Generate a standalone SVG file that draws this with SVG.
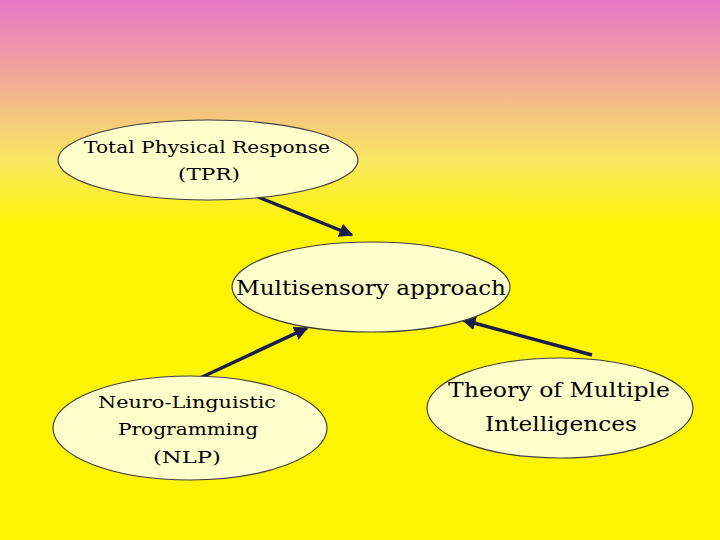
<svg xmlns="http://www.w3.org/2000/svg" width="720" height="540" viewBox="0 0 720 540">
<defs>
<linearGradient id="bg" x1="0" y1="0" x2="0" y2="1">
<stop offset="0" stop-color="#e878c8"/>
<stop offset="0.12" stop-color="#f0a0a0"/>
<stop offset="0.3" stop-color="#f8e860"/>
<stop offset="0.42" stop-color="#fcf400"/>
<stop offset="1" stop-color="#fcf400"/>
</linearGradient>
<marker id="ah" viewBox="0 0 10 10" refX="9" refY="5" markerWidth="4" markerHeight="4" orient="auto-start-reverse">
<path d="M0,0 L10,5 L0,10 z" fill="#1c1c4c"/>
</marker>
<style>
.n{fill:#ffffcc;stroke:#404040;stroke-width:1.2}
.t{font-family:"DejaVu Serif","Liberation Serif",serif;fill:#000;text-anchor:middle}
.c{stroke:#1c1c4c;stroke-width:3.5;fill:none;marker-end:url(#ah)}
</style>
</defs>
<rect width="720" height="540" fill="url(#bg)"/>
<g id="connectors">
<line class="c" x1="258" y1="197" x2="352" y2="235"/>
<line class="c" x1="200" y1="378" x2="307" y2="328"/>
<line class="c" x1="592" y1="355" x2="463" y2="320"/>
</g>
<g id="tpr">
<ellipse class="n" cx="208" cy="160" rx="150" ry="40"/>
<text class="t" x="207" y="153" font-size="17" textLength="246" lengthAdjust="spacingAndGlyphs">Total Physical Response</text>
<text class="t" x="209" y="180" font-size="17" textLength="62" lengthAdjust="spacingAndGlyphs">(TPR)</text>
</g>
<g id="multi">
<ellipse class="n" cx="371" cy="287" rx="139" ry="45"/>
<text class="t" x="371" y="295" font-size="21" textLength="270" lengthAdjust="spacingAndGlyphs">Multisensory approach</text>
</g>
<g id="nlp">
<ellipse class="n" cx="190" cy="428" rx="137" ry="52"/>
<text class="t" x="187" y="408" font-size="17" textLength="178" lengthAdjust="spacingAndGlyphs">Neuro-Linguistic</text>
<text class="t" x="188" y="435" font-size="17" textLength="140" lengthAdjust="spacingAndGlyphs">Programming</text>
<text class="t" x="187" y="463" font-size="17" textLength="68" lengthAdjust="spacingAndGlyphs">(NLP)</text>
</g>
<g id="mi">
<ellipse class="n" cx="560" cy="408" rx="133" ry="50"/>
<text class="t" x="559" y="397" font-size="21" textLength="222" lengthAdjust="spacingAndGlyphs">Theory of Multiple</text>
<text class="t" x="561" y="431" font-size="21" textLength="152" lengthAdjust="spacingAndGlyphs">Intelligences</text>
</g>
</svg>
